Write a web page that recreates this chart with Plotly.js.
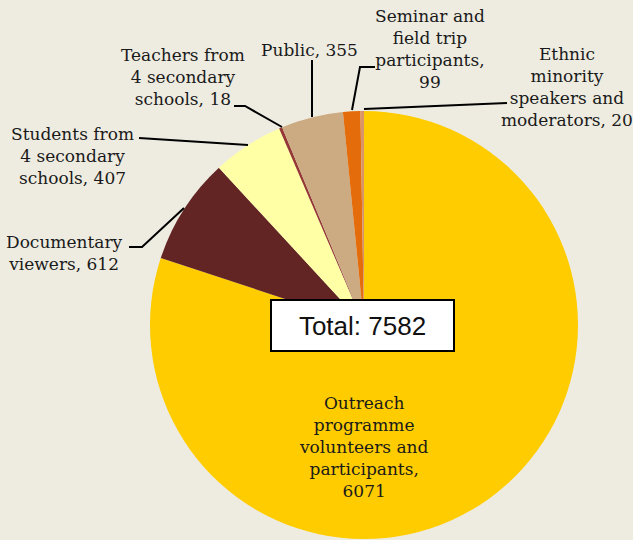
<!DOCTYPE html>
<html>
<head>
<meta charset="utf-8">
<script src="https://cdn.plot.ly/plotly-3.0.1.min.js"></script>
<style>
  html, body { margin: 0; padding: 0; background: #eeece1; }
  #chart { width: 633px; height: 540px; }
</style>
</head>
<body>
<div id="chart"></div>
<script>
const groups = [
  'Outreach programme volunteers and participants',
  'Documentary viewers',
  'Students from 4 secondary schools',
  'Teachers from 4 secondary schools',
  'Public',
  'Seminar and field trip participants',
  'Ethnic minority speakers and moderators',
];
const counts = [6071, 612, 407, 18, 355, 99, 20];
const colours = ['#ffcc00', '#632523', '#ffffa6', '#953735', '#ccaa82', '#e46c0a', '#d9946a'];
const labelText = [
  'Outreach<br>programme<br>volunteers and<br>participants,<br>6071',
  'Documentary<br>viewers, 612',
  'Students from<br>4 secondary<br>schools, 407',
  'Teachers from<br>4 secondary<br>schools, 18',
  'Public, 355',
  'Seminar and<br>field trip<br>participants,<br>99',
  'Ethnic<br>minority<br>speakers and<br>moderators, 20',
];

const W = 633, H = 540;
const fx = (x) => x / W;
const fy = (y) => 1 - y / H;

// label centres, in pixels from top-left
const labelPos = [
  [363, 447], [64, 253], [72, 156], [183, 77], [309, 50], [430, 49], [567, 87],
];

// leader lines, in pixels
const leaders = [
  null,
  [[129, 247], [142, 247], [184, 208]],
  [[139, 138], [248, 145]],
  [[234, 106], [245, 106], [282, 127]],
  [[312, 60], [312, 117]],
  [[375, 67], [360, 67], [352, 110]],
  [[507, 103], [364, 109]],
];

const total = counts.reduce((a, b) => a + b, 0);

const annotations = labelText.map((t, i) => ({
  text: t,
  xref: 'paper', yref: 'paper',
  x: fx(labelPos[i][0]), y: fy(labelPos[i][1]),
  xanchor: 'center', yanchor: 'middle', align: 'center',
  showarrow: false,
  font: { family: '"DejaVu Serif", "Liberation Serif", serif', size: 17, color: '#1a1a1a' },
}));

annotations.push({
  text: 'Total: ' + total,
  xref: 'paper', yref: 'paper',
  x: fx(362), y: fy(325),
  xanchor: 'center', yanchor: 'middle',
  showarrow: false,
  width: 181, height: 49,
  bgcolor: '#ffffff', bordercolor: '#000000', borderwidth: 2, borderpad: 0,
  font: { family: 'Liberation Sans', size: 26, color: '#111111' },
});

const shapes = leaders.filter(Boolean).map((pts) => ({
  type: 'path',
  xref: 'paper', yref: 'paper',
  path: pts.map((p, j) => (j ? 'L' : 'M') + fx(p[0]) + ',' + fy(p[1])).join(' '),
  line: { color: '#000000', width: 2 },
}));

Plotly.newPlot('chart', [{
  type: 'pie',
  labels: groups,
  values: counts,
  sort: false,
  direction: 'clockwise',
  rotation: 0,
  textinfo: 'none',
  hoverinfo: 'label+value',
  marker: { colors: colours, line: { width: 0 } },
  domain: { x: [fx(150), fx(578)], y: [fy(539), fy(111)] },
}], {
  width: W, height: H,
  margin: { t: 0, r: 0, b: 0, l: 0 },
  showlegend: false,
  paper_bgcolor: '#eeece1',
  plot_bgcolor: '#eeece1',
  annotations: annotations,
  shapes: shapes,
}, { displayModeBar: false, staticPlot: true });
</script>
</body>
</html>
